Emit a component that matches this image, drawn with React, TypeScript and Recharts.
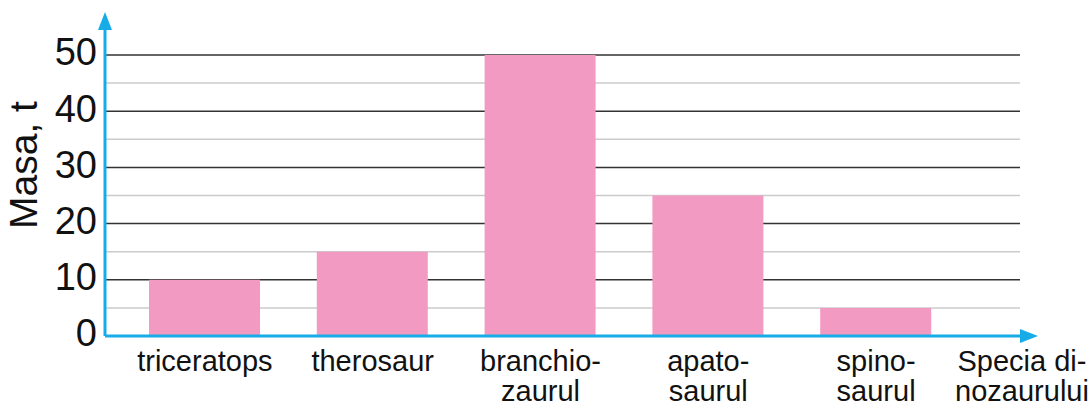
import { BarChart, Bar, XAxis, YAxis, CartesianGrid, Label } from 'recharts';

const species = ['triceratops', 'therosaur', 'branchio-\nzaurul', 'apato-\nsaurul', 'spino-\nsaurul'];
const mass = [10, 15, 50, 25, 5];
const yTicks = [0, 10, 20, 30, 40, 50];
const majorLines = [10, 20, 30, 40, 50];
const minorLines = [5, 15, 25, 35, 45];

const data = species.map((name, i) => ({ name, mass: mass[i] }));

const font = '"Liberation Sans", Arial, Helvetica, sans-serif';
const axisBlue = '#16ace8';

const CategoryTick = ({ x, y, payload }: any) => {
  const lines = String(payload.value).split('\n');
  return (
    <text x={x} y={y + 35} textAnchor="middle" fontSize={29} fontFamily={font} fill="#111">
      {lines.map((l, i) => (
        <tspan key={i} x={x} dy={i === 0 ? 0 : 30}>
          {l}
        </tspan>
      ))}
    </text>
  );
};

const XTitle = ({ viewBox }: any) => {
  const cx = viewBox.x + viewBox.width + 2;
  return (
    <text x={cx} y={viewBox.y + 35} textAnchor="middle" fontSize={29} fontFamily={font} fill="#111">
      <tspan x={cx} dy={0}>Specia di-</tspan>
      <tspan x={cx} dy={30}>nozaurului</tspan>
    </text>
  );
};

const YTitle = ({ viewBox }: any) => {
  const bx = viewBox.x + 37;
  const cy = viewBox.y + 110;
  return (
    <text x={bx} y={cy} textAnchor="middle" fontSize={39} fontFamily={font} fill="#111" transform={`rotate(-90, ${bx}, ${cy})`}>
      Masa, t
    </text>
  );
};

export default function App() {
  return (
    <div style={{ position: 'absolute', left: 0, top: 0, background: '#fff' }}>
      <BarChart width={1092} height={407} data={data} margin={{ top: 55, right: 72, bottom: 0, left: 0 }}>
        <defs>
          <marker id="arrowUp" markerUnits="userSpaceOnUse" orient="auto-start-reverse" refX={0} refY={0} markerWidth={1} markerHeight={1} overflow="visible">
            <line x1={0} y1={0} x2={26} y2={0} stroke={axisBlue} strokeWidth={3} />
            <polygon points="25,-7 43,0 25,7" fill={axisBlue} />
          </marker>
          <marker id="arrowRight" markerUnits="userSpaceOnUse" orient="auto" refX={0} refY={0} markerWidth={1} markerHeight={1} overflow="visible">
            <polygon points="0,-7 18,0 0,7" fill={axisBlue} />
          </marker>
        </defs>
        <CartesianGrid vertical={false} horizontalValues={minorLines} stroke="#cbcbcb" strokeWidth={1.5} />
        <CartesianGrid vertical={false} horizontalValues={majorLines} stroke="#333" strokeWidth={1.5} />
        <XAxis
          dataKey="name"
          interval={0}
          padding={{ left: 16, right: 60 }}
          tickLine={false}
          tickSize={0}
          tickMargin={0}
          tick={<CategoryTick />}
          axisLine={{ stroke: axisBlue, strokeWidth: 3, markerEnd: 'url(#arrowRight)' }}
          height={71}
        >
          <Label content={<XTitle />} />
        </XAxis>
        <YAxis
          domain={[0, 50]}
          ticks={yTicks}
          interval={0}
          width={105}
          tickLine={false}
          tickSize={0}
          tickMargin={8}
          tick={{ fontSize: 38, fontFamily: font, fill: '#111', dy: -3 }}
          axisLine={{ stroke: axisBlue, strokeWidth: 3, markerStart: 'url(#arrowUp)' }}
        >
          <Label content={<YTitle />} />
        </YAxis>
        <Bar dataKey="mass" fill="#f39ac3" barSize={111} isAnimationActive={false} />
      </BarChart>
    </div>
  );
}
